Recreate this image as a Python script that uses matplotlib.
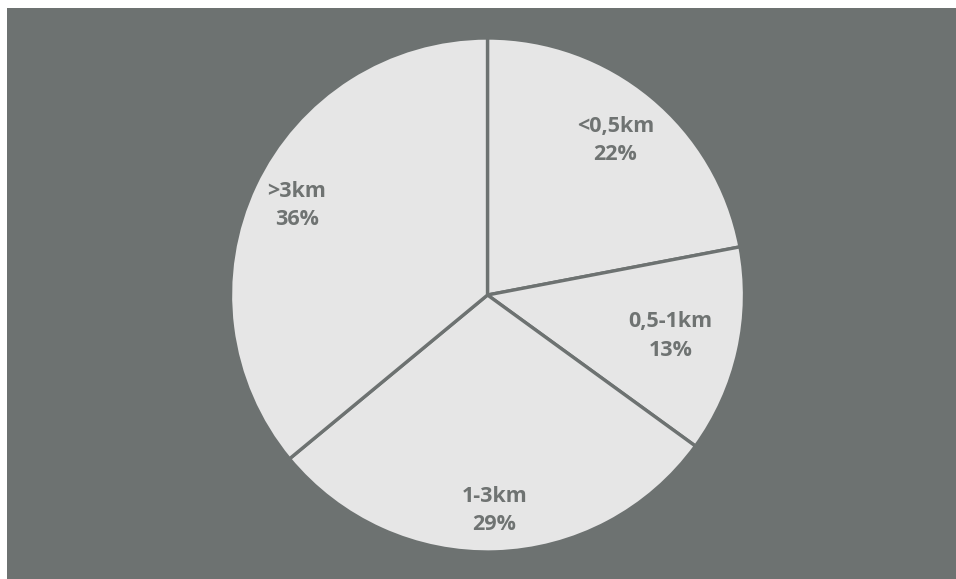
import matplotlib
matplotlib.use("Agg")
import matplotlib.pyplot as plt
import numpy as np
from matplotlib.patches import Rectangle

# distance bands and their shares (%)
categories = ['<0,5km', '0,5-1km', '1-3km', '>3km']
shares = [22, 13, 29, 36]

bg_color = '#6d7271'
slice_color = '#e6e6e6'
text_color = '#6f7372'

fig = plt.figure(figsize=(9.56, 5.79), dpi=100)
fig.patch.set_facecolor('white')

# dark panel behind the pie (small white margin on the top and left)
fig.patches.append(Rectangle((7 / 956, 0), 1 - 7 / 956, 1 - 8 / 579,
                             transform=fig.transFigure, facecolor=bg_color,
                             edgecolor='none', zorder=-5))

cx, cy, r = 487.5, 295, 257
ax = fig.add_axes([(cx - r) / 956, (579 - cy - r) / 579, 2 * r / 956, 2 * r / 579])
ax.set_facecolor('none')
ax.set_zorder(2)

wedges, texts = ax.pie(shares, startangle=90, counterclock=False,
                       colors=[slice_color] * len(shares),
                       wedgeprops={'edgecolor': bg_color, 'linewidth': 2.4})

# label positions (fraction of radius)
label_r = [0.78, 0.73, 0.84, 0.82]
for w, name, val, lr in zip(wedges, categories, shares, label_r):
    ang = np.deg2rad((w.theta1 + w.theta2) / 2)
    ax.text(lr * np.cos(ang), lr * np.sin(ang), f'{name}\n{val}%',
            ha='center', va='center', fontsize=15.5, fontweight='bold',
            color=text_color, family='Open Sans', linespacing=1.45)

ax.set_xlim(-1, 1)
ax.set_ylim(-1, 1)
ax.axis('off')

fig.savefig('out.png', dpi=100, facecolor=fig.get_facecolor())
